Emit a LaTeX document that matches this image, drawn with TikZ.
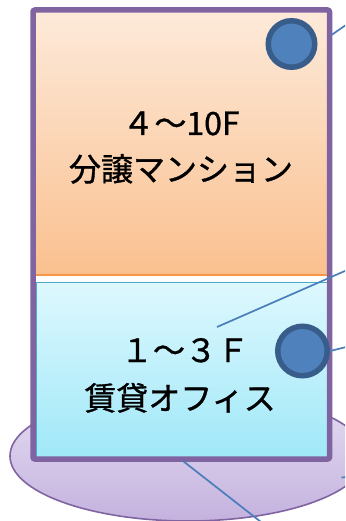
\documentclass[tikz,border=0pt]{standalone}
\usepackage{fontspec}
\newfontfamily\jp[FakeBold=1]{Noto Sans CJK JP}
\definecolor{frameviolet}{HTML}{8064A2}
\definecolor{orangetop}{HTML}{FDEADA}
\definecolor{orangebot}{HTML}{FAC08F}
\definecolor{orangeline}{HTML}{F79646}
\definecolor{bluetop}{HTML}{DEF8FE}
\definecolor{bluebot}{HTML}{A0E8F8}
\definecolor{blueline}{HTML}{4BACC6}
\definecolor{lavtop}{HTML}{E6DEF3}
\definecolor{lavbot}{HTML}{C4B2DE}
\definecolor{dotfill}{HTML}{4F81BD}
\definecolor{dotring}{HTML}{385D8A}
\definecolor{callcol}{HTML}{4A7EBB}
\begin{document}
\begin{tikzpicture}[x={(1pt,0)},y={(0,-1pt)},
  frame/.style={draw=frameviolet,line width=5.5pt,rounded corners=2pt,inner sep=0pt},
  dot/.style={circle,draw=dotring,fill=dotfill,line width=5.5pt,inner sep=0pt},
  callout/.style={draw=callcol,line width=1.7pt},
  label/.style={font=\jp\fontsize{32}{40}\selectfont,inner sep=0pt,anchor=base,text=black}]
\useasboundingbox (0,0) rectangle (345,521);
\clip (0,0) rectangle (345,521);
% ground ellipse
\shade[top color=lavtop,bottom color=lavbot,draw=frameviolet,line width=1.6pt]
  (188,456) ellipse [x radius=178pt, y radius=65pt];
% building interior
\fill[white] (33,10) rectangle (329.5,459);
\shade[top color=orangetop,bottom color=orangebot] (33,10) rectangle (329.5,275);
\draw[orangeline,line width=2pt] (33,275) -- (329.5,275);
\shade[top color=bluetop,bottom color=bluebot,draw=blueline,line width=1pt]
  (36,282) rectangle (327,457);
% frame
\node[frame,minimum width=296.5pt,minimum height=449pt] (bldg) at (181.25,234.5) {};
% dots
\node[dot,minimum size=46.5pt] (dotA) at (291.5,44) {};
\node[dot,minimum size=49.5pt] (dotB) at (302.5,351) {};
% texts
\node[label] (upA) at (181,135) {４～10F};
\node[label] (upB) at (181,181) {分譲マンション};
\node[label] (lowA) at (185,362) {１～３Ｆ};
\node[label] (lowB) at (180,410) {賃貸オフィス};
% callout lines
\coordinate (l1s) at (331.5,35);
\coordinate (l1e) at (360,15.2);
\coordinate (l2s) at (217,327);
\coordinate (l2e) at (360,264.4);
\coordinate (l3e) at (360,343.5);
\coordinate (l4s) at (183,461);
\coordinate (l4e) at (284,540);
\coordinate (l5s) at (341.5,477.5);
\coordinate (l5e) at (360,476);
\draw[callout] (l1s) -- (l1e);
\draw[callout] (l2s) -- (l2e);
\draw[callout] (dotB.east) -- (l3e);
\draw[callout] (l4s) -- (l4e);
\draw[callout] (l5s) -- (l5e);
\end{tikzpicture}
\end{document}
